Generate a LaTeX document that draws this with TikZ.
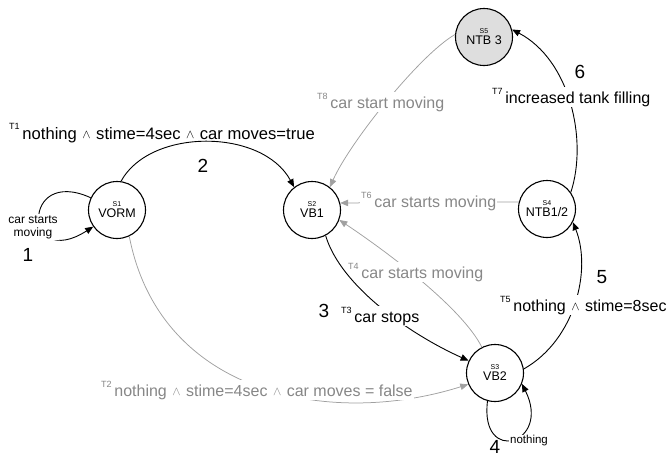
\documentclass[tikz,border=0pt]{standalone}
\usepackage{fontspec}
\usepackage{graphicx}
\setmainfont{Liberation Sans}
\usetikzlibrary{arrows.meta}
\definecolor{edgegray}{RGB}{160,160,160}
\definecolor{textgray}{RGB}{135,135,135}
\definecolor{fillgray}{RGB}{222,222,222}
\newcommand{\andop}{\hspace{5.5pt}\raisebox{0.05ex}{\scalebox{0.72}{$\wedge$}}\hspace{5.5pt}}
\newcommand{\tsup}[1]{\raisebox{0.55em}{\fontsize{9}{9}\selectfont #1}\,}
\newcommand{\sname}[2]{{\fontsize{7}{8}\selectfont #1}\\[-1pt]{\fontsize{12.5}{13}\selectfont #2}}
\begin{document}
\begin{tikzpicture}[x=1pt,y=-1pt,
  state/.style={circle, draw, line width=1.1pt, minimum size=57pt, inner sep=0pt, align=center},
  blk/.style={draw=black, line width=0.9pt, -{Triangle[length=8pt,width=6.5pt]}},
  gry/.style={draw=edgegray, line width=0.75pt, -{Triangle[length=8pt,width=6.5pt]}, color=edgegray},
  lab/.style={font=\fontsize{16}{18}\selectfont, inner sep=1pt, anchor=base west},
  glab/.style={lab, text=textgray},
  wht/.style={fill=white},
  num/.style={font=\fontsize{19}{20}\selectfont, inner sep=0pt},
  small/.style={font=\fontsize{12}{13}\selectfont, align=center, inner sep=1pt, fill=white}
]
\useasboundingbox (0,0) rectangle (671,458);

% states
\node[state] (s1) at (117,210) {\sname{S1}{VORM}};
\node[state] (s2) at (312,210) {\sname{S2}{VB1}};
\node[state] (s3) at (495,373) {\sname{S3}{VB2}};
\node[state] (s4) at (547,209) {\sname{S4}{NTB1/2}};
\node[state, fill=fillgray] (s5) at (484,37) {\sname{S5}{NTB 3}};

% gray transitions
\draw[gry] (s1.-65) .. controls (160,395) and (330,428) .. (s3.203);
\node[glab, wht] (t2) at (100,396) {\tsup{T2}nothing\andop stime=4sec\andop car moves = false};

\draw[gry] (s3.117) .. controls +(-20,-40) and +(45,30) .. (s2.-20);
\node[glab, wht] (t4) at (347,278) {\tsup{T4}car starts moving};

\draw[gry] (s4.166) -- (s2.14);
\node[glab, wht] (t6) at (360,207) {\tsup{T6}car starts moving};

\draw[gry] (s5.175) .. controls +(-35,20) and +(20,-45) .. (s2.52);
\node[glab, wht] (t8) at (316,108) {\tsup{T8}car start moving};

% black transitions
\draw[blk] (s1.155) .. controls +(-70,-32) and +(-70,45) .. (s1.215);
\node[small] (l1) at (33,227) {car starts\\moving};
\node[num] (n1) at (28,255) {1};

\draw[blk] (s1.82) .. controls (150,128) and (262,128) .. (s2.128);
\node[lab, font=\fontsize{16.6}{18}\selectfont] (t1) at (8,139) {\tsup{T1}nothing\andop stime=4sec\andop car moves=true};
\node[num] (n2) at (203,166) {2};

\draw[blk] (s2.-62) .. controls +(15,50) and +(-60,-27) .. (s3.155);
\node[lab, wht] (t3) at (340,322) {\tsup{T3}car stops};
\node[num] (n3) at (324,311) {3};

\draw[blk] (s3.255) .. controls +(-8,65) and +(30,60) .. (s3.-22);
\node[small, font=\fontsize{11.5}{12}\selectfont] (l4) at (529,441) {nothing};
\node[num] (n4) at (495,447) {4};

\draw[blk] (s3.8) .. controls (575,340) and (592,270) .. (s4.-27);
\node[lab, wht] (t5) at (499,311) {\tsup{T5}nothing\andop stime=8sec};
\node[num] (n5) at (602,277) {5};

\draw[blk] (s4.35) .. controls (588,140) and (570,60) .. (s5.15);
\node[lab, wht] (t7) at (491,103) {\tsup{T7}increased tank filling};
\node[num] (n6) at (580,72) {6};
\end{tikzpicture}
\end{document}
